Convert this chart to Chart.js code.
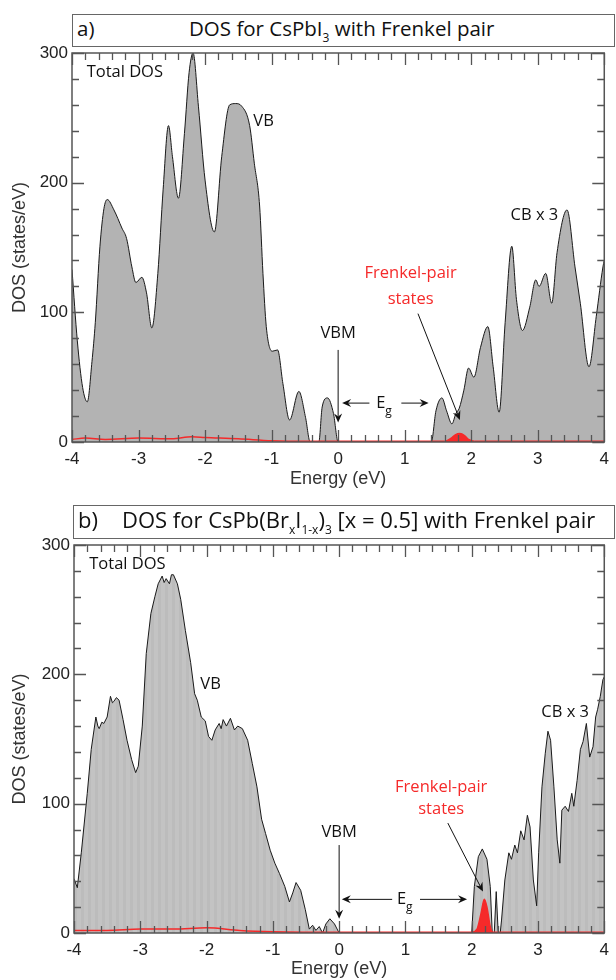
<!DOCTYPE html>
<html>
<head>
<meta charset="utf-8">
<script src="https://cdn.jsdelivr.net/npm/chart.js@4/dist/chart.umd.min.js"></script>
<style>
body { margin: 0; background: #fff; width: 616px; height: 980px; position: relative; overflow: hidden; }
canvas { position: absolute; left: 0; }
.ttl { position: absolute; border: 1.5px solid #666; box-sizing: border-box; font-family: "Open Sans", sans-serif; color: #111; background: #fff; }
.ttl span { position: absolute; white-space: nowrap; line-height: 1.2; }
.ttl sub { font-size: 12px; vertical-align: -6px; line-height: 0; }
</style>
</head>
<body>
<canvas id="dosA" width="616" height="490" style="top:0"></canvas>
<canvas id="dosB" width="616" height="490" style="top:490px"></canvas>
<div class="ttl" style="left:72px;top:14px;width:543px;height:33px;font-size:20.5px">
  <span style="left:4px;top:1px">a)</span>
  <span style="left:116px;top:1px">DOS for CsPbI<sub>3</sub> with Frenkel pair</span>
</div>
<div class="ttl" style="left:73px;top:505px;width:542px;height:34px;font-size:22px">
  <span style="left:4px;top:0px">b)</span>
  <span style="left:48px;top:0px">DOS for CsPb(Br<sub>x</sub>I<sub>1-x</sub>)<sub>3</sub> [x = 0.5] with Frenkel pair</span>
</div>
<script>
// panel a: CsPbI3
const energyA = [-4.00, -3.92, -3.84, -3.77, -3.70, -3.65, -3.58, -3.52, -3.47, -3.37, -3.25, -3.18, -3.10, -3.04, -2.95, -2.88, -2.80,
  -2.71, -2.63, -2.55, -2.49, -2.40, -2.31, -2.24, -2.18, -2.10, -2.00, -1.86, -1.75, -1.63, -1.54, -1.45, -1.33, -1.26, -1.18,
  -1.13, -1.08, -0.99, -0.91, -0.83, -0.73, -0.59, -0.49, -0.42, -0.29, -0.24, -0.16, -0.07, 0.00, 1.40, 1.47, 1.56, 1.63, 1.71,
  1.77, 1.82, 1.89, 1.96, 2.04, 2.14, 2.25, 2.33, 2.42, 2.51, 2.61, 2.68, 2.77, 2.88, 2.97, 3.02, 3.12, 3.21, 3.29, 3.44, 3.56,
  3.64, 3.77, 3.88, 3.98, 4.00];
const dosA = [133, 78, 42, 31, 62, 92, 151, 180, 187, 179, 165, 157, 135, 123, 127, 115, 88,
  130, 195, 244, 220, 188, 238, 285, 300, 259, 202, 162, 220, 260, 261, 259, 244, 215, 182,
  130, 89, 70, 71, 45, 17, 39, 19, 0, 0, 27, 34, 22, 0, 0, 24, 34, 24, 14,
  22, 26, 40, 57, 50, 73, 89, 58, 23, 92, 151, 110, 86, 104, 125, 120, 130, 107, 146, 179, 135,
  107, 58, 97, 135, 140];
const fpEnergyA = [-4.0, -3.8, -3.5, -3.0, -2.5, -2.2, -2.0, -1.5, -1.0, -0.5, 0.0, 1.60, 1.70, 1.76, 1.83, 1.90, 1.96, 2.05, 3.0, 4.0];
const fpA = [2, 3, 2, 3, 2.5, 4, 3.5, 2.5, 1, 0.5, 0.5, 0.5, 3, 5.5, 6.5, 5, 2, 0.5, 0.5, 0.5];

// panel b: CsPb(BrxI1-x)3, x = 0.5
const energyB = [-4.00, -3.95, -3.89, -3.80, -3.74, -3.67, -3.64, -3.62, -3.58, -3.55, -3.50, -3.45, -3.42, -3.40, -3.36, -3.32,
  -3.26, -3.20, -3.13, -3.07, -3.03, -2.97, -2.91, -2.84, -2.78, -2.73, -2.67, -2.64, -2.61, -2.56, -2.53, -2.50, -2.44, -2.39,
  -2.32, -2.24, -2.18, -2.14, -2.08, -2.02, -1.97, -1.92, -1.87, -1.81, -1.78, -1.75, -1.70, -1.64, -1.58, -1.53, -1.46, -1.38,
  -1.31, -1.24, -1.17, -1.11, -1.04, -0.97, -0.90, -0.82, -0.75, -0.70, -0.65, -0.58, -0.51, -0.45, -0.40, -0.35, -0.30, -0.25,
  -0.20, -0.14, -0.07, 0.00, 2.00, 2.04, 2.10, 2.16, 2.23, 2.28, 2.31, 2.34, 2.37, 2.40, 2.43, 2.45, 2.50, 2.56, 2.60, 2.65,
  2.69, 2.74, 2.79, 2.84, 2.88, 2.93, 2.98, 3.01, 3.06, 3.11, 3.15, 3.19, 3.24, 3.29, 3.33, 3.36, 3.41, 3.46, 3.51, 3.54, 3.59,
  3.64, 3.68, 3.73, 3.78, 3.83, 3.87, 3.90, 3.94, 3.98, 4.00];
const dosB = [42, 35, 62, 108, 142, 167, 160, 158, 163, 162, 167, 183, 178, 179, 182, 180,
  165, 149, 134, 124, 129, 160, 216, 247, 260, 270, 276, 271, 274, 270, 277, 277, 270, 258,
  234, 209, 185, 180, 167, 164, 152, 149, 157, 162, 158, 165, 160, 166, 157, 160, 158, 149,
  131, 113, 88, 77, 64, 54, 46, 36, 24, 31, 39, 33, 18, 3, 6, 2, 5, 0,
  7, 11, 7, 0, 0, 36, 59, 65, 57, 36, 0, 0, 32, 0, 0, 10, 41, 62, 57, 68,
  62, 79, 72, 91, 82, 41, 21, 62, 113, 139, 156, 149, 113, 72, 54, 95, 98, 94, 108, 98, 118,
  142, 148, 162, 136, 144, 167, 173, 183, 196, 198];
const fpEnergyB = [-4.0, -3.5, -3.0, -2.5, -2.0, -1.5, -1.0, 0.0, 2.00, 2.08, 2.14, 2.19, 2.23, 2.28, 2.32, 4.0];
const fpB = [2, 2, 3, 3, 4, 2, 1, 0.5, 0.5, 3, 15, 26, 20, 5, 0.5, 0.5];

const RED = "#f52a2a";
const tickFont = { family: "Liberation Sans", size: 17 };
const titleFont = { family: "Liberation Sans", size: 18 };
const noteFont = "16.5px 'Open Sans'";

const notesA = [
  { t: "text", x: -3.78, y: 285, s: "Total DOS", align: "left" },
  { t: "text", x: -1.12, y: 247, s: "VB" },
  { t: "text", x: 2.95, y: 175, s: "CB x 3" },
  { t: "text", x: 1.09, y: 130, s: "Frenkel-pair", c: RED },
  { t: "text", x: 1.09, y: 110, s: "states", c: RED },
  { t: "arrow", x1: 1.20, y1: 99, x2: 1.83, y2: 17 },
  { t: "text", x: 0, y: 84, s: "VBM" },
  { t: "arrow", x1: 0, y1: 71, x2: 0, y2: 15 },
  { t: "sub", x: 0.69, y: 30, s: "E", sub: "g" },
  { t: "arrow", x1: 0.47, y1: 30, x2: 0.06, y2: 30 },
  { t: "arrow", x1: 0.95, y1: 30, x2: 1.36, y2: 30 }
];
const notesB = [
  { t: "text", x: -3.77, y: 285, s: "Total DOS", align: "left" },
  { t: "text", x: -1.94, y: 192, s: "VB" },
  { t: "text", x: 3.41, y: 171, s: "CB x 3" },
  { t: "text", x: 1.54, y: 113, s: "Frenkel-pair", c: RED },
  { t: "text", x: 1.54, y: 96, s: "states", c: RED },
  { t: "arrow", x1: 1.64, y1: 85, x2: 2.17, y2: 32 },
  { t: "text", x: 0, y: 78, s: "VBM" },
  { t: "arrow", x1: 0, y1: 68, x2: 0, y2: 11 },
  { t: "sub", x: 0.99, y: 26, s: "E", sub: "g" },
  { t: "arrow", x1: 0.80, y1: 26, x2: 0.04, y2: 26 },
  { t: "arrow", x1: 1.22, y1: 26, x2: 1.93, y2: 26 }
];

function pts(xs, ys) {
  return xs.map((x, i) => ({ x: x, y: ys[i] }));
}

// frame with inward ticks on all four sides
const framePlugin = {
  id: "frame",
  afterDatasetsDraw(chart) {
    const { ctx, chartArea: a, scales: { x, y } } = chart;
    ctx.save();
    ctx.strokeStyle = "#555";
    ctx.lineWidth = 1.3;
    ctx.beginPath();
    for (let i = 0; i <= 40; i++) {
      const px = Math.round(x.getPixelForValue(-4 + i * 0.2)) + 0.5;
      const len = i % 5 === 0 ? 12 : 7;
      ctx.moveTo(px, a.bottom); ctx.lineTo(px, a.bottom - len);
      ctx.moveTo(px, a.top); ctx.lineTo(px, a.top + len);
    }
    for (let i = 0; i <= 15; i++) {
      const py = Math.round(y.getPixelForValue(i * 20)) + 0.5;
      const len = i % 5 === 0 ? 12 : 7;
      ctx.moveTo(a.left, py); ctx.lineTo(a.left + len, py);
      ctx.moveTo(a.right, py); ctx.lineTo(a.right - len, py);
    }
    ctx.stroke();
    ctx.lineWidth = 1.5;
    ctx.strokeRect(a.left, a.top, a.right - a.left, a.bottom - a.top);
    ctx.restore();
  }
};

function arrow(ctx, x1, y1, x2, y2, color) {
  const ang = Math.atan2(y2 - y1, x2 - x1);
  ctx.strokeStyle = color;
  ctx.fillStyle = color;
  ctx.lineWidth = 1;
  ctx.beginPath();
  ctx.moveTo(x1, y1);
  ctx.lineTo(x2 - 6 * Math.cos(ang), y2 - 6 * Math.sin(ang));
  ctx.stroke();
  ctx.beginPath();
  ctx.moveTo(x2, y2);
  ctx.lineTo(x2 - 9 * Math.cos(ang) + 4 * Math.sin(ang), y2 - 9 * Math.sin(ang) - 4 * Math.cos(ang));
  ctx.lineTo(x2 - 6 * Math.cos(ang), y2 - 6 * Math.sin(ang));
  ctx.lineTo(x2 - 9 * Math.cos(ang) - 4 * Math.sin(ang), y2 - 9 * Math.sin(ang) + 4 * Math.cos(ang));
  ctx.closePath();
  ctx.fill();
}

const notesPlugin = {
  id: "notes",
  afterDatasetsDraw(chart, args, opts) {
    const { ctx, scales: { x, y } } = chart;
    ctx.save();
    ctx.textBaseline = "middle";
    for (const n of opts.items || []) {
      if (n.t === "arrow") {
        arrow(ctx, x.getPixelForValue(n.x1), y.getPixelForValue(n.y1), x.getPixelForValue(n.x2), y.getPixelForValue(n.y2), n.c || "#111");
        continue;
      }
      const px = x.getPixelForValue(n.x), py = y.getPixelForValue(n.y);
      ctx.fillStyle = n.c || "#111";
      ctx.font = noteFont;
      if (n.t === "sub") {
        const w1 = ctx.measureText(n.s).width;
        ctx.font = "12px 'Open Sans'";
        const w2 = ctx.measureText(n.sub).width;
        const left = px - (w1 + w2) / 2;
        ctx.textAlign = "left";
        ctx.fillText(n.sub, left + w1, py + 8);
        ctx.font = noteFont;
        ctx.fillText(n.s, left, py);
      } else {
        ctx.textAlign = n.align || "center";
        ctx.fillText(n.s, px, py);
      }
    }
    ctx.restore();
  }
};

function stripes() {
  const c = document.createElement("canvas");
  c.width = 7; c.height = 1;
  const g = c.getContext("2d");
  g.fillStyle = "#c3c3c3"; g.fillRect(0, 0, 7, 1);
  g.fillStyle = "#bcbcbc"; g.fillRect(4, 0, 3, 1);
  return g.createPattern(c, "repeat");
}

function drawPanel(id, p) {
  new Chart(document.getElementById(id), {
    type: "line",
    data: {
      datasets: [{
        data: pts(p.fpE, p.fp),
        borderColor: RED,
        borderWidth: 1.5,
        pointRadius: 0,
        fill: "origin",
        backgroundColor: "rgba(0,0,0,0)",
        segment: {
          backgroundColor: c => (c.p0.parsed.x >= p.bump[0] && c.p1.parsed.x <= p.bump[1]) ? RED : "rgba(0,0,0,0)"
        },
        cubicInterpolationMode: "monotone",
        order: 0
      }, {
        data: pts(p.e, p.dos),
        borderColor: "#1a1a1a",
        borderWidth: 1,
        pointRadius: 0,
        fill: "origin",
        backgroundColor: p.fillColor,
        cubicInterpolationMode: p.smooth ? "monotone" : "default",
        tension: 0,
        order: 1
      }]
    },
    options: {
      responsive: false,
      animation: false,
      layout: { padding: { top: p.top, right: p.right, left: 0, bottom: 0 } },
      plugins: {
        legend: { display: false },
        tooltip: { enabled: false },
        notes: { items: p.notes }
      },
      scales: {
        x: {
          type: "linear",
          min: -4, max: 4,
          ticks: { stepSize: 1, padding: 7, color: "#222", font: tickFont },
          grid: { display: false, drawTicks: false },
          border: { display: false },
          title: { display: true, text: "Energy (eV)", color: "#333", font: titleFont, padding: { top: 1, bottom: 0 } },
          afterFit: s => { s.height = p.xh; }
        },
        y: {
          min: 0, max: 300,
          ticks: { stepSize: 100, padding: 4, color: "#222", font: tickFont },
          grid: { display: false, drawTicks: false },
          border: { display: false },
          title: { display: true, text: "DOS (states/eV)", color: "#333", font: titleFont, padding: { top: 9, bottom: 4 } },
          afterFit: s => { s.width = p.yw; }
        }
      }
    },
    plugins: [framePlugin, notesPlugin]
  });
}

drawPanel("dosA", {
  e: energyA, dos: dosA, fpE: fpEnergyA, fp: fpA, bump: [1.6, 2.05],
  fillColor: "#b3b3b3", smooth: true, notes: notesA,
  top: 53, right: 2, xh: 48, yw: 72
});
drawPanel("dosB", {
  e: energyB, dos: dosB, fpE: fpEnergyB, fp: fpB, bump: [2.0, 2.32],
  fillColor: stripes(), smooth: false, notes: notesB,
  top: 55, right: 1, xh: 47, yw: 74
});
</script>
</body>
</html>
